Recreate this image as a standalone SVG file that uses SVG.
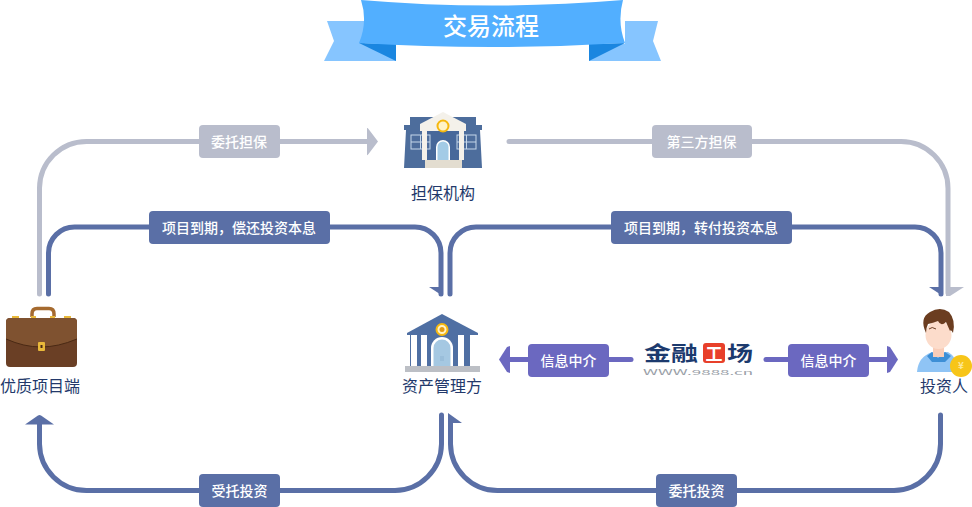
<svg xmlns="http://www.w3.org/2000/svg" width="972" height="507" viewBox="0 0 972 507">
<style>
text{font-family:"Noto Sans CJK SC","Noto Sans",sans-serif;text-anchor:middle}
.line{fill:none;stroke-width:5;stroke-linecap:round}
.g{stroke:#b9bdcc}.d{stroke:#5a6fa6}.p{stroke:#6b68c0}
.fg{fill:#b9bdcc}.fd{fill:#5a6fa6}.fp{fill:#6b68c0}
.lbl{font-size:14px;fill:#fff;font-weight:500}
.name{font-size:16px;fill:#23396b}
.win{fill:#4d6d9c;stroke:#c6d8ea;stroke-width:1}
.col{fill:#fff}
</style>
<g id="title">
<path d="M365 21H327L334 41L324 61H396V44H365Z" fill="#86c5ff"/>
<path d="M625 21H658L653 41L661 61H589V44H625Z" fill="#86c5ff"/>
<path d="M359 43L396 44V61Z" fill="#1a86e0"/>
<path d="M625 43L589 44V61Z" fill="#1a86e0"/>
<path d="M361 0Q491 11 623 0Q617 22 625 43Q491 51 359 43Q368 22 361 0Z" fill="#52afff"/>
<text x="491" y="35" font-size="24" font-weight="500" fill="#fff">交易流程</text>
</g>
<g id="connectors">
<path class="line g" d="M39.500 294V188A47 47 0 0 1 86.500 141.500H368"/>
<path class="fg" d="M367 128Q367.500 127.500 368.500 129L378 141.500L368.500 154Q367.500 155.500 367 155Z"/>
<path class="line g" d="M509 141.500H901A47 47 0 0 1 948 188.500V293"/>
<path class="fg" d="M946 287H964L950 296H946Z"/>
<path class="line d" d="M48.500 294V253A26 26 0 0 1 74.500 227H415A26 26 0 0 1 441 253V294"/>
<path class="fd" d="M429 287H443V296Z"/>
<path class="line d" d="M450 294V253A26 26 0 0 1 476 227H915A26 26 0 0 1 941 253V294"/>
<path class="fd" d="M929 287H943V296Z"/>
<path class="line d" d="M39.500 422V444A47 47 0 0 0 86.500 490.500H395A47 47 0 0 0 441.500 444V415"/>
<path class="fd" d="M25 424.500L38 415.500Q39.500 414.500 41 415.500L54 424.500Z"/>
<path class="line d" d="M450.500 420V444A47 47 0 0 0 497.500 490.500H894A47 47 0 0 0 940.500 444V415"/>
<path class="fd" d="M448 413L462 423H448Z"/>
<path class="line p" d="M508 359.500H631"/>
<path class="fp" d="M510 346V373L507 372L499 359.500L507 347Z"/>
<path class="line p" d="M766 359.500H888"/>
<path class="fp" d="M887 346V373L890 372L898 359.500L890 347Z"/>
<g id="connector-labels">
<rect class="fg" x="199" y="125" width="81" height="33" rx="4"/><text class="lbl" x="239" y="146.500">委托担保</text>
<rect class="fg" x="652" y="125" width="100" height="33" rx="4"/><text class="lbl" x="701.500" y="146.500">第三方担保</text>
<rect class="fd" x="149" y="211" width="181" height="33" rx="4"/><text class="lbl" x="239" y="232.500">项目到期，偿还投资本息</text>
<rect class="fd" x="611" y="211" width="181" height="33" rx="4"/><text class="lbl" x="701" y="232.500">项目到期，转付投资本息</text>
<rect class="fd" x="199" y="474" width="81" height="33" rx="4"/><text class="lbl" x="239.500" y="495.500">受托投资</text>
<rect class="fd" x="656" y="474" width="81" height="33" rx="4"/><text class="lbl" x="696.500" y="495.500">委托投资</text>
<rect class="fp" x="528" y="344" width="81" height="33" rx="4"/><text class="lbl" x="568.500" y="365.500">信息中介</text>
<rect class="fp" x="788" y="344" width="81" height="33" rx="4"/><text class="lbl" x="828.500" y="365.500">信息中介</text>
</g>
</g>
<g id="guarantee">
<path d="M410 117H476V125H482V130H480L482 168H404L406 130H404V125H410Z" fill="#4d6d9c"/>
<rect x="427" y="128" width="33" height="33" fill="#47689a"/>
<rect class="win" x="411" y="135" width="19" height="14"/>
<rect class="win" x="457" y="135" width="19" height="14"/>
<path d="M420.500 135V149M411 142H430M466.500 135V149M457 142H476" stroke="#c6d8ea" stroke-width="1"/>
<path d="M420 124L443 112L466 124V131H420Z" fill="#f4f1ea"/>
<path d="M422 131h5v29h-5zM459 131h5v29h-5z" fill="#f4f1ea"/>
<rect x="425" y="160" width="37" height="8" fill="#e3ddd0"/>
<path d="M436 160V147A7 7 0 0 1 450 147V160Z" fill="#fff"/>
<path d="M437.500 160V147A5.500 5.500 0 0 1 448.500 147V160Z" fill="#a3cbe6"/>
<circle cx="443" cy="126" r="5.500" fill="#fff3c8" stroke="#f6b80f" stroke-width="2"/>
<text class="name" x="443" y="199">担保机构</text>
</g>
<g id="asset-manager">
<rect x="410" y="333" width="65" height="33" fill="#4f6fa3"/>
<path d="M442 314L478 333V335H407V333Z" fill="#4f6fa3"/>
<path d="M411 335h6v31h-6zM421 335h6v31h-6zM458 335h6v31h-6zM470 335h5v31h-5z" class="col"/>
<path d="M431 366V348A11 11 0 0 1 453 348V366Z" fill="#fff"/>
<path d="M433.500 366V348A8.500 8.500 0 0 1 450.500 348V366Z" fill="#a5c8e2"/>
<path d="M441 356V361M443 356V361" stroke="#8fb4d2" stroke-width="1"/>
<circle cx="442" cy="329.500" r="5.500" fill="#fff3c8" stroke="#f6b80f" stroke-width="2"/>
<circle cx="442" cy="329.500" r="2.500" fill="#e29a12"/>
<rect x="405" y="366" width="75" height="6" fill="#bcbfc5"/>
<text class="name" x="442" y="392">资产管理方</text>
</g>
<g id="project">
<path d="M32 317V314Q32 308.500 37 308.500H49Q54 308.500 54 314V317" fill="none" stroke="#a56a2f" stroke-width="3.500"/>
<path d="M12 316h7v3h-7zM64 316h7v3h-7zM31 316h5v3h-5zM50 316h5v3h-5z" fill="#e9b93a"/>
<rect x="6" y="318" width="71" height="49" rx="4" fill="#6a3f25"/>
<path d="M6 339V322Q6 318 10 318H73Q77 318 77 322V339Q58 347 41 347Q24 347 6 339Z" fill="#7f5230"/>
<path d="M6 339Q24 347 41 347Q58 347 77 339" fill="none" stroke="#4a2914" stroke-width="1"/>
<rect x="38" y="342" width="7" height="9" rx="1" fill="#e9b93a"/>
<rect x="40.500" y="345" width="2" height="3" fill="#4a2914"/>
<text class="name" x="40" y="392">优质项目端</text>
</g>
<g id="logo">
<text x="671" y="361" font-size="20" font-weight="700" fill="#1c3a6e" textLength="54" lengthAdjust="spacingAndGlyphs">金融</text>
<rect x="703" y="343" width="22" height="20" rx="3" fill="#e8402a"/>
<text x="714" y="359.500" font-size="17" font-weight="700" fill="#fff">工</text>
<text x="740" y="361" font-size="20" font-weight="700" fill="#1c3a6e" textLength="26" lengthAdjust="spacingAndGlyphs">场</text>
<text x="698" y="374.500" font-family="Liberation Mono" font-size="7" fill="#9a9fa8" textLength="110" lengthAdjust="spacingAndGlyphs">WWW.9888.cn</text>
</g>
<g id="investor">
<path d="M917 372Q918 357 932 352H948Q956 356 960 372Z" fill="#8fc4f5"/>
<path d="M927 356L932 352L938 358L945 352L951 356L945 362H932Z" fill="#3d8fd6"/>
<rect x="933" y="342" width="11" height="15" fill="#f9cdb8"/>
<ellipse cx="938.500" cy="335" rx="13" ry="14" fill="#fcdccb"/>
<path d="M926 333Q919 318 930 312Q940 306 949 312Q956 320 953 333Q951 329 950 331L946 322Q941 327 938 321Q933 323 928 324Q926 328 926 333Z" fill="#6b3d20"/>
<path d="M929 329Q932 326 936 329" fill="none" stroke="#6d3f24" stroke-width="1"/>
<circle cx="961" cy="366" r="11" fill="#f7c518"/>
<text x="961" y="369" font-size="10" font-weight="700" fill="#fde89a">¥</text>
<text class="name" x="944" y="392">投资人</text>
</g>
</svg>
